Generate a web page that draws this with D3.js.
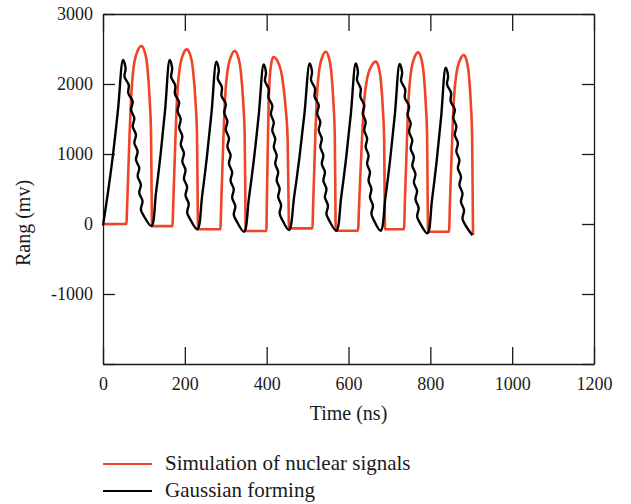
<!DOCTYPE html>
<html lang="en">
<head>
  <meta charset="UTF-8">
  <title>Nuclear signals and Gaussian forming</title>
  <script src="https://cdn.jsdelivr.net/npm/d3@7"></script>
  <style>
    body { margin: 0; background: #fff; }
    text { font-family: "Liberation Serif", "Times New Roman", serif; fill: #1a1a1a; }
  </style>
</head>
<body>

  <svg id="svg" width="631" height="504"></svg>

  <script>
    // tick values / labels
    const xTicks = [0, 200, 400, 600, 800, 1000, 1200]
    const yTicks = [-2000, -1000, 0, 1000, 2000, 3000]
    const yTickLabels = ["", "-1000", "0", "1000", "2000", "3000"]
    const seriesNames = ["Simulation of nuclear signals", "Gaussian forming"]
    const seriesColors = ["#ef4527", "#000000"]

    // Simulation of nuclear signals: [time (ns), mV]
    const simulation = [
      [0, 0], [57, 0], [59.5, 343], [65, 1295], [68.5, 1771], [75, 2248], [85.6, 2486], [93.8, 2543],
      [100.8, 2480], [108.4, 2248], [114.1, 1771], [117.4, 1295], [119, 343], [119.8, -30],
      [169.6, -30], [172, 337], [177.3, 1272], [180.5, 1747], [186.8, 2196], [196.9, 2438], [204.6, 2495],
      [212.1, 2433], [220.1, 2196], [226.1, 1747], [229.7, 1272], [231.4, 337], [232.2, -76],
      [286.8, -76], [289.2, 334], [294.5, 1260], [297.7, 1730], [304, 2174], [314.2, 2414], [321.9, 2471],
      [329.1, 2409], [336.9, 2174], [342.8, 1730], [346.3, 1260], [347.9, 334], [348.7, -100],
      [399.3, -100], [400.5, 322], [403.1, 1217], [404.6, 1670], [407.7, 2100], [412.6, 2331], [416.4, 2386],
      [426.7, 2326], [437.8, 2100], [446.2, 1670], [451.2, 1217], [453.5, 322], [454.6, -62],
      [511.7, -62], [513.9, 332], [518.9, 1255], [521.8, 1723], [527.7, 2166], [537.1, 2404], [544.3, 2461],
      [550.9, 2400], [558, 2166], [563.3, 1723], [566.5, 1255], [568, 332], [568.7, -96],
      [623.2, -96], [626.1, 313], [632.7, 1183], [636.6, 1623], [644.4, 2041], [657, 2266], [666.5, 2319],
      [672.6, 2261], [679.2, 2041], [684.2, 1623], [687.2, 1183], [688.5, 313], [689.2, -76],
      [735.6, -76], [737.9, 331], [743.1, 1251], [746.2, 1716], [752.4, 2158], [762.4, 2396], [769.9, 2452],
      [776.5, 2391], [783.6, 2158], [788.9, 1716], [792.1, 1251], [793.6, 331], [794.3, -110],
      [845.6, -110], [848, 326], [853.5, 1231], [856.7, 1690], [863.2, 2124], [873.6, 2358], [881.5, 2414],
      [887.7, 2354], [894.3, 2124], [899.3, 1690], [902.2, 1231], [903.6, 326], [904.3, -157]
    ]

    // Gaussian forming: [time (ns), mV]
    const gaussian = [
      [0, -20], [12.2, 453], [24.5, 996], [36.7, 1634], [48.9, 2343],
      [55.2, 2224], [52.5, 2106], [62.8, 1987], [61.9, 1868], [72.6, 1750], [68.6, 1631], [76.6, 1512],
      [72.6, 1394], [80.6, 1275], [76.6, 1157], [84.6, 1038], [80.6, 919], [88.6, 801], [84.6, 682],
      [92.6, 563], [88.6, 445], [96.6, 326], [92.6, 207], [98.9, 124], [118.3, -29],
      [129.5, 445], [140.7, 991], [151.8, 1631], [163, 2343],
      [169.1, 2222], [166.5, 2101], [176.6, 1980], [175.7, 1859], [186.1, 1738], [182.2, 1617], [190, 1496],
      [186.1, 1375], [193.9, 1254], [190, 1134], [197.8, 1013], [193.9, 892], [201.7, 771], [197.8, 650],
      [205.6, 529], [201.7, 408], [209.5, 287], [205.6, 166], [211.8, 81], [230.7, -76],
      [242.3, 403], [253.9, 954], [265.4, 1601], [277, 2319],
      [283.1, 2198], [280.5, 2076], [290.6, 1955], [289.7, 1833], [300.1, 1712], [296.2, 1590], [304, 1469],
      [300.1, 1347], [307.9, 1226], [304, 1105], [311.8, 983], [307.9, 862], [315.7, 740], [311.8, 619],
      [319.6, 497], [315.7, 376], [323.5, 254], [319.6, 133], [325.8, 48], [344.6, -110],
      [356.6, 368], [368.7, 918], [380.7, 1564], [392.7, 2281],
      [398.3, 2163], [395.9, 2044], [405.1, 1926], [404.3, 1808], [413.8, 1689], [410.3, 1571], [417.4, 1453],
      [413.8, 1334], [421, 1216], [417.4, 1098], [424.5, 979], [421, 861], [428.1, 742], [424.5, 624],
      [431.7, 506], [428.1, 387], [435.2, 269], [431.7, 151], [437.3, 68], [454.6, -86],
      [467.2, 390], [479.8, 938], [492.4, 1581], [505, 2295],
      [510.9, 2175], [508.4, 2056], [518.1, 1936], [517.2, 1817], [527.3, 1697], [523.5, 1578], [531.1, 1458],
      [527.3, 1339], [534.8, 1219], [531.1, 1100], [538.6, 980], [534.8, 860], [542.4, 741], [538.6, 621],
      [546.1, 502], [542.4, 382], [549.9, 263], [546.1, 143], [552.1, 59], [570.3, -96],
      [582.1, 382], [594, 932], [605.8, 1578], [617.6, 2295],
      [623.1, 2175], [620.8, 2056], [629.8, 1936], [629, 1817], [638.5, 1697], [634.9, 1578], [642, 1458],
      [638.5, 1339], [645.5, 1219], [642, 1100], [649, 980], [645.5, 860], [652.5, 741], [649, 621],
      [656, 502], [652.5, 382], [659.6, 263], [656, 143], [661.6, 59], [678.7, -96],
      [690.3, 380], [701.9, 928], [713.4, 1571], [725, 2286],
      [731.1, 2165], [728.5, 2044], [738.6, 1923], [737.7, 1802], [748.1, 1681], [744.2, 1560], [752, 1439],
      [748.1, 1318], [755.9, 1197], [752, 1077], [759.8, 956], [755.9, 835], [763.7, 714], [759.8, 593],
      [767.6, 472], [763.7, 351], [771.5, 230], [767.6, 109], [773.8, 24], [792.8, -133],
      [804, 340], [815.2, 884], [826.3, 1523], [837.5, 2233],
      [843.4, 2113], [840.9, 1994], [850.6, 1874], [849.7, 1754], [859.8, 1635], [856, 1515], [863.6, 1395],
      [859.8, 1275], [867.3, 1156], [863.6, 1036], [871.1, 916], [867.3, 797], [874.9, 677], [871.1, 557],
      [878.6, 438], [874.9, 318], [882.4, 198], [878.6, 78], [884.6, -5], [902.8, -161]
    ]

    const margin = { top: 14, right: 37, bottom: 140, left: 103 }
    const width = 631 - margin.left - margin.right
    const height = 504 - margin.top - margin.bottom

    const xscale = d3.scaleLinear().domain([0, 1200]).range([0, width])
    const yscale = d3.scaleLinear().domain([-2000, 3000]).range([height, 0])

    const svg = d3.select("#svg")
    const g = svg.append("g").attr("transform", `translate(${margin.left}, ${margin.top})`)

    // axes on four sides, ticks pointing inward
    const styleAxis = sel => {
      sel.selectAll("path, line").attr("stroke", "#1a1a1a").attr("stroke-width", 1.3)
      sel.selectAll("text").attr("font-size", 18).attr("fill", "#1a1a1a")
        .attr("font-family", '"Liberation Serif", serif')
    }

    g.append("g")
      .attr("transform", `translate(0, ${height})`)
      .call(d3.axisBottom(xscale).tickValues(xTicks).tickSizeInner(-17).tickSizeOuter(0).tickPadding(13)
        .tickFormat(d3.format("d")))
      .call(styleAxis)

    g.append("g")
      .call(d3.axisTop(xscale).tickValues(xTicks).tickSizeInner(-17).tickSizeOuter(0).tickFormat(""))
      .call(styleAxis)

    g.append("g")
      .call(d3.axisLeft(yscale).tickValues(yTicks).tickSizeInner(-12).tickSizeOuter(0).tickPadding(10)
        .tickFormat((d, i) => yTickLabels[i]))
      .call(styleAxis)

    g.append("g")
      .attr("transform", `translate(${width}, 0)`)
      .call(d3.axisRight(yscale).tickValues(yTicks).tickSizeInner(-12).tickSizeOuter(0).tickFormat(""))
      .call(styleAxis)

    // the series
    const redLine = d3.line()
      .x(d => xscale(d[0]))
      .y(d => yscale(d[1]))
      .curve(d3.curveMonotoneX)

    const blackLine = d3.line()
      .x(d => xscale(d[0]))
      .y(d => yscale(d[1]))
      .curve(d3.curveCatmullRom.alpha(0.5))

    g.append("path")
      .datum(simulation)
      .attr("fill", "none")
      .attr("stroke", seriesColors[0])
      .attr("stroke-width", 2.6)
      .attr("stroke-linejoin", "round")
      .attr("d", redLine)

    g.append("path")
      .datum(gaussian)
      .attr("fill", "none")
      .attr("stroke", seriesColors[1])
      .attr("stroke-width", 2.4)
      .attr("stroke-linejoin", "round")
      .attr("d", blackLine)

    // axis titles
    svg.append("text")
      .attr("x", margin.left + width / 2)
      .attr("y", 420)
      .attr("text-anchor", "middle")
      .attr("font-size", 20)
      .text("Time (ns)")

    svg.append("text")
      .attr("transform", `translate(30, 223) rotate(-90)`)
      .attr("text-anchor", "middle")
      .attr("font-size", 20)
      .text("Rang (mv)")

    // legend
    const legend = svg.append("g")
    seriesNames.forEach((name, i) => {
      const y = 464 + i * 27
      legend.append("line")
        .attr("x1", 103).attr("x2", 152)
        .attr("y1", y).attr("y2", y)
        .attr("stroke", seriesColors[i])
        .attr("stroke-width", 2.2)
      legend.append("text")
        .attr("x", 165)
        .attr("y", y + 6)
        .attr("font-size", 21)
        .text(name)
    })
  </script>
</body>
</html>
